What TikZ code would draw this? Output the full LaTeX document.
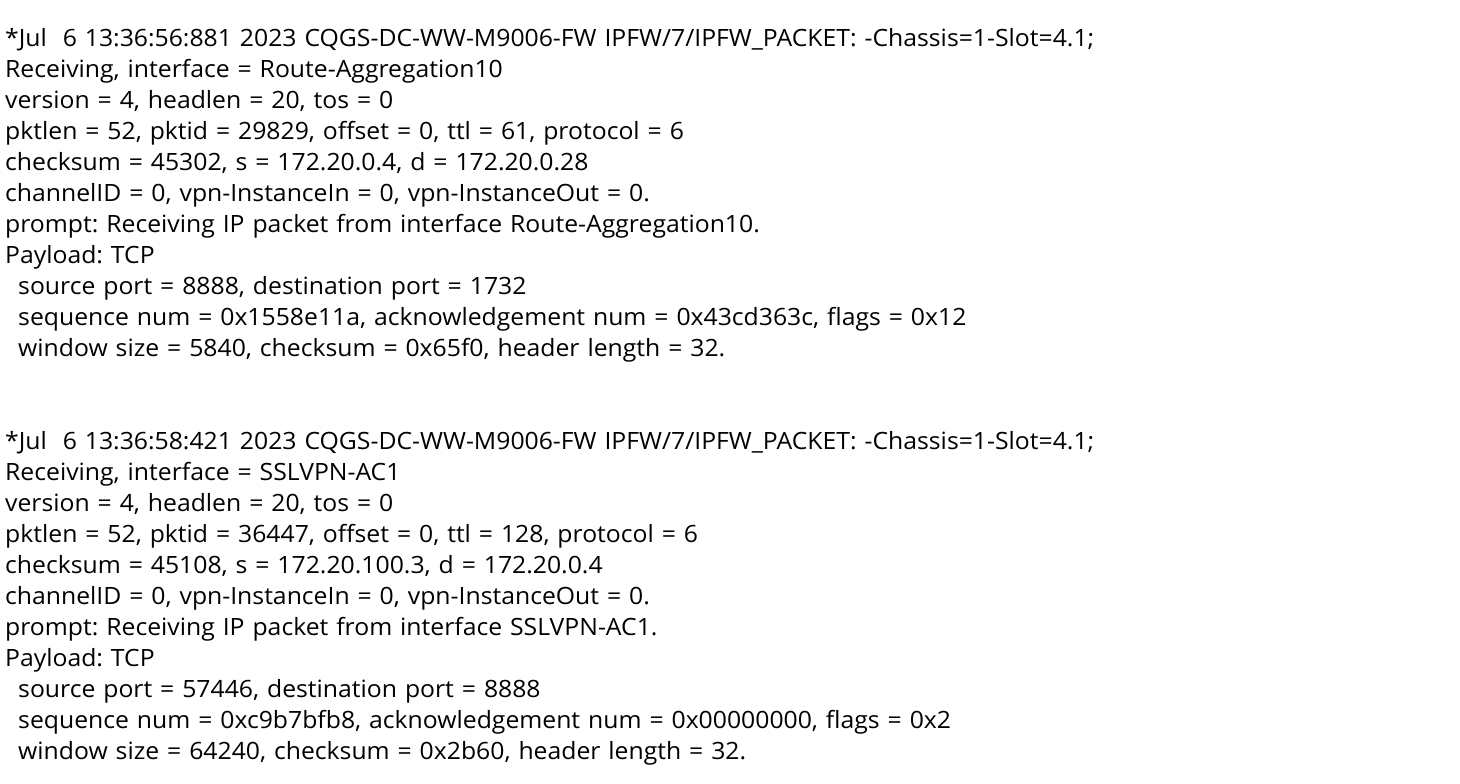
\documentclass[tikz,border=0pt]{standalone}
\usepackage{fontspec}
\setmainfont{Open Sans}[FakeStretch=1.04]
\usetikzlibrary{shapes,arrows}
\frenchspacing

\begin{document}
\begin{tikzpicture}[node distance = 31pt, auto]
        \tikzstyle{logline} = [rectangle, text width=1440pt, align=left, text height=17pt, text depth=6pt, inner sep=0pt, font=\fontsize{23.8}{31}\selectfont, node distance=31pt]
        \tikzstyle{indent} = [logline, execute at begin node=\hspace*{13pt}]

        \useasboundingbox (0pt,0pt) rectangle (1460pt,-784pt);

        % first packet
        \node [logline, anchor=base west] (a_head) at (5pt,-46.5pt) {*Jul~~6 13:36:56:881 2023 CQGS-DC-WW-M9006-FW IPFW/7/IPFW\_PACKET: -Chassis=1-Slot=4.1;};
        \node [logline, below of=a_head] (a_iface) {Receiving, interface = Route-Aggregation10};
        \node [logline, below of=a_iface] (a_version) {version = 4, headlen = 20, tos = 0};
        \node [logline, below of=a_version] (a_pktlen) {pktlen = 52, pktid = 29829, offset = 0, ttl = 61, protocol = 6};
        \node [logline, below of=a_pktlen] (a_checksum) {checksum = 45302, s = 172.20.0.4, d = 172.20.0.28};
        \node [logline, below of=a_checksum] (a_channel) {channelID = 0, vpn-InstanceIn = 0, vpn-InstanceOut = 0.};
        \node [logline, below of=a_channel] (a_prompt) {prompt: Receiving IP packet from interface Route-Aggregation10.};
        \node [logline, below of=a_prompt] (a_payload) {Payload: TCP};
        \node [indent, below of=a_payload] (a_ports) {source port = 8888, destination port = 1732};
        \node [indent, below of=a_ports] (a_seq) {sequence num = 0x1558e11a, acknowledgement num = 0x43cd363c, flags = 0x12};
        \node [indent, below of=a_seq] (a_window) {window size = 5840, checksum = 0x65f0, header length = 32.};

        % second packet
        \node [logline, below of=a_window, node distance=93pt] (b_head) {*Jul~~6 13:36:58:421 2023 CQGS-DC-WW-M9006-FW IPFW/7/IPFW\_PACKET: -Chassis=1-Slot=4.1;};
        \node [logline, below of=b_head] (b_iface) {Receiving, interface = SSLVPN-AC1};
        \node [logline, below of=b_iface] (b_version) {version = 4, headlen = 20, tos = 0};
        \node [logline, below of=b_version] (b_pktlen) {pktlen = 52, pktid = 36447, offset = 0, ttl = 128, protocol = 6};
        \node [logline, below of=b_pktlen] (b_checksum) {checksum = 45108, s = 172.20.100.3, d = 172.20.0.4};
        \node [logline, below of=b_checksum] (b_channel) {channelID = 0, vpn-InstanceIn = 0, vpn-InstanceOut = 0.};
        \node [logline, below of=b_channel] (b_prompt) {prompt: Receiving IP packet from interface SSLVPN-AC1.};
        \node [logline, below of=b_prompt] (b_payload) {Payload: TCP};
        \node [indent, below of=b_payload] (b_ports) {source port = 57446, destination port = 8888};
        \node [indent, below of=b_ports] (b_seq) {sequence num = 0xc9b7bfb8, acknowledgement num = 0x00000000, flags = 0x2};
        \node [indent, below of=b_seq] (b_window) {window size = 64240, checksum = 0x2b60, header length = 32.};

    \end{tikzpicture}
\end{document}
